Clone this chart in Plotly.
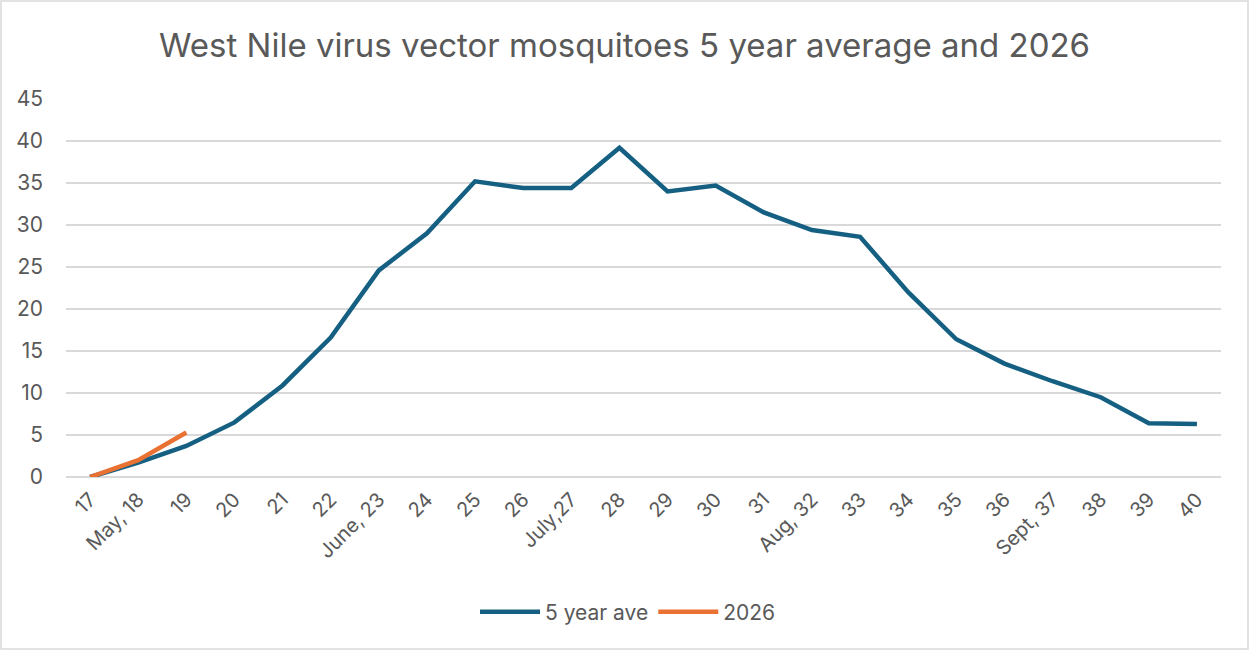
import plotly.graph_objects as go

weeks = ["17", "May, 18", "19", "20", "21", "22", "June, 23", "24", "25", "26",
         "July,27", "28", "29", "30", "31", "Aug, 32", "33", "34", "35", "36",
         "Sept, 37", "38", "39", "40"]
avg5 = [0, 1.7, 3.7, 6.5, 10.9, 16.6, 24.6, 29.0, 35.2, 34.4, 34.4, 39.2, 34.0,
        34.7, 31.5, 29.4, 28.6, 22.0, 16.4, 13.5, 11.4, 9.5, 6.4, 6.3]
y2026 = [0, 2.0, 5.3]

W, H = 1249, 650
ml, mr, mt, mb = 66, 28, 99, 173

fig = go.Figure()
fig.add_trace(go.Scatter(x=weeks, y=avg5, mode="lines", name="5 year ave",
                         line=dict(color="#156082", width=4.5)))
fig.add_trace(go.Scatter(x=weeks[:len(y2026)], y=y2026, mode="lines", name="2026",
                         line=dict(color="#E97132", width=4.5)))

pw = W - ml - mr
ph = H - mt - mb
fig.add_shape(type="rect", xref="paper", yref="paper",
              x0=(-ml + 1) / pw, x1=(W - ml - 1) / pw,
              y0=(-(mb) + 1) / ph, y1=(H - mb - 1) / ph,
              line=dict(color="#D9D9D9", width=1.5), layer="below")

fig.update_layout(
    width=W, height=H,
    margin=dict(l=ml, r=mr, t=mt, b=mb, autoexpand=False),
    paper_bgcolor="white", plot_bgcolor="white",
    font=dict(family="Inter, Open Sans, sans-serif", color="#595959"),
    title=dict(text="West Nile virus vector mosquitoes 5 year average and 2026",
               x=0.5, xanchor="center", y=1 - 45 / H, yanchor="middle",
               font=dict(size=33, color="#595959")),
    xaxis=dict(type="category", categoryorder="array", categoryarray=weeks,
               range=[-0.5, len(weeks) - 0.5], tickangle=-45, automargin=False,
               tickfont=dict(size=20, color="#595959"), showgrid=False,
               showline=False, zeroline=False, ticks="", ticklabelstandoff=6),
    yaxis=dict(range=[0, 45], dtick=5, tickfont=dict(size=21, color="#595959"),
               gridcolor="#D9D9D9", gridwidth=1.5, zeroline=True, automargin=False,
               zerolinecolor="#D9D9D9", zerolinewidth=1.5, showline=False,
               ticks="", ticklabelstandoff=22),
    legend=dict(orientation="h", x=(628 - ml) / pw, xanchor="center",
                y=(-(612 - mt - ph)) / ph,
                yanchor="middle", font=dict(size=21, color="#595959"),
                itemwidth=60, tracegroupgap=0),
    showlegend=True,
)

fig.write_html("out.html", config={"displayModeBar": False},
               post_script="document.body.style.margin='0';")
